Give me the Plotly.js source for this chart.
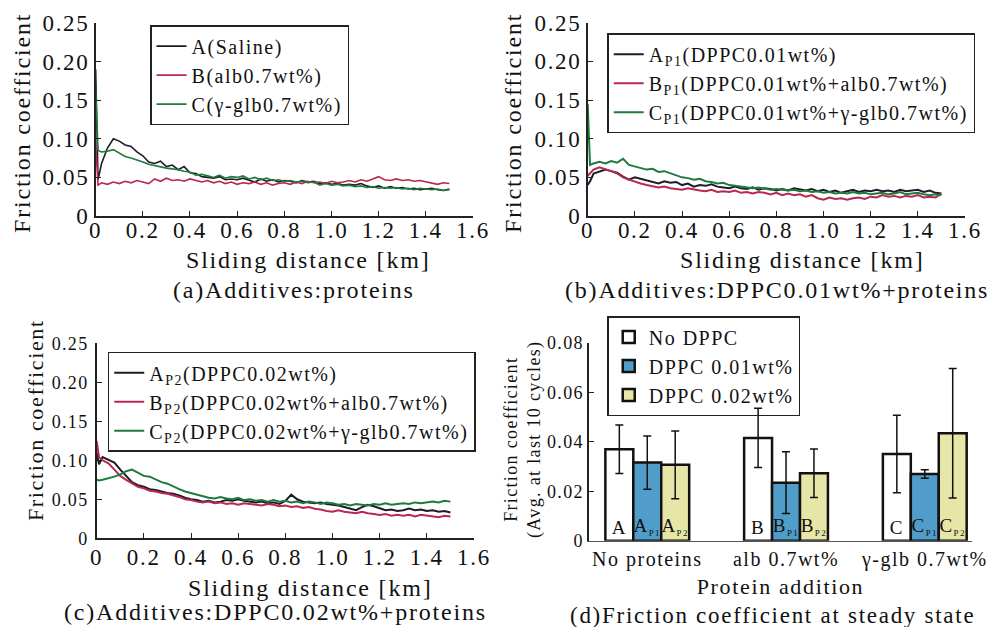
<!DOCTYPE html>
<html><head><meta charset="utf-8">
<script src="https://cdn.plot.ly/plotly-3.0.1.min.js"></script>
<style>
html,body{margin:0;padding:0;background:#fff;}
svg text{letter-spacing:0.075em;}
g.bartext text{letter-spacing:0 !important;}
</style>
</head><body><div id="chart" style="width:1007px;height:627px;"></div>
<script>
// ---------- data ----------
const distance = [0,0.01,0.025,0.05,0.075,0.1,0.125,0.15,0.175,0.2,0.225,0.25,0.275,0.3,0.325,0.35,0.375,0.4,0.425,0.45,0.475,0.5,0.525,0.55,0.575,0.6,0.625,0.65,0.675,0.7,0.725,0.75,0.775,0.8,0.825,0.85,0.875,0.9,0.925,0.95,0.975,1.0,1.025,1.05,1.075,1.1,1.125,1.15,1.175,1.2,1.225,1.25,1.275,1.3,1.325,1.35,1.375,1.4,1.425,1.45,1.475,1.5];

// (a) proteins only
const saline_A = [0.19,0.047,0.068,0.088,0.100,0.097,0.092,0.090,0.083,0.078,0.070,0.068,0.071,0.064,0.066,0.060,0.064,0.056,0.055,0.051,0.050,0.049,0.051,0.047,0.048,0.047,0.049,0.046,0.044,0.048,0.045,0.047,0.044,0.046,0.045,0.043,0.046,0.044,0.045,0.042,0.043,0.041,0.042,0.040,0.041,0.040,0.042,0.039,0.037,0.039,0.036,0.038,0.036,0.037,0.035,0.036,0.034,0.035,0.036,0.034,0.033,0.035];
const alb_B = [0.095,0.040,0.043,0.041,0.044,0.042,0.045,0.043,0.046,0.044,0.042,0.048,0.045,0.049,0.046,0.047,0.045,0.048,0.046,0.044,0.046,0.043,0.045,0.042,0.044,0.041,0.043,0.042,0.044,0.041,0.043,0.040,0.042,0.043,0.041,0.044,0.042,0.045,0.043,0.044,0.042,0.045,0.043,0.044,0.046,0.044,0.047,0.045,0.048,0.051,0.047,0.046,0.048,0.046,0.047,0.045,0.046,0.044,0.043,0.041,0.043,0.042];
const glb_C = [0.165,0.085,0.083,0.084,0.086,0.081,0.077,0.075,0.073,0.070,0.067,0.065,0.063,0.062,0.061,0.060,0.058,0.057,0.053,0.054,0.052,0.050,0.053,0.049,0.051,0.050,0.052,0.048,0.050,0.047,0.049,0.046,0.047,0.045,0.046,0.044,0.045,0.043,0.044,0.040,0.042,0.040,0.041,0.039,0.040,0.038,0.039,0.037,0.038,0.036,0.037,0.036,0.037,0.035,0.036,0.034,0.036,0.035,0.034,0.035,0.033,0.034];

// (b) DPPC 0.01wt% + proteins
const p1_A = [0.040,0.045,0.055,0.058,0.060,0.058,0.056,0.051,0.047,0.050,0.048,0.046,0.044,0.042,0.045,0.043,0.044,0.040,0.042,0.038,0.040,0.039,0.041,0.038,0.037,0.036,0.038,0.036,0.035,0.037,0.034,0.036,0.035,0.033,0.035,0.033,0.036,0.034,0.033,0.035,0.032,0.034,0.031,0.033,0.030,0.032,0.034,0.031,0.033,0.032,0.034,0.032,0.033,0.031,0.034,0.032,0.033,0.034,0.031,0.033,0.030,0.029];
const p1_B = [0.052,0.055,0.060,0.063,0.061,0.058,0.055,0.050,0.047,0.044,0.042,0.040,0.038,0.037,0.038,0.036,0.035,0.034,0.036,0.034,0.033,0.032,0.034,0.031,0.032,0.031,0.033,0.030,0.031,0.029,0.031,0.030,0.028,0.030,0.027,0.029,0.027,0.028,0.025,0.027,0.023,0.021,0.024,0.022,0.023,0.021,0.023,0.024,0.022,0.025,0.024,0.027,0.025,0.026,0.024,0.026,0.025,0.027,0.024,0.025,0.024,0.029];
const p1_C = [0.145,0.066,0.068,0.070,0.068,0.071,0.069,0.074,0.066,0.064,0.062,0.060,0.061,0.057,0.058,0.055,0.053,0.050,0.049,0.047,0.048,0.045,0.044,0.042,0.043,0.040,0.039,0.038,0.037,0.036,0.037,0.035,0.034,0.035,0.034,0.033,0.034,0.032,0.033,0.031,0.032,0.030,0.031,0.029,0.030,0.029,0.031,0.029,0.030,0.028,0.029,0.030,0.028,0.029,0.031,0.028,0.029,0.030,0.028,0.027,0.028,0.027];

// (c) DPPC 0.02wt% + proteins
const p2_A = [0.110,0.095,0.104,0.100,0.097,0.088,0.080,0.072,0.068,0.066,0.063,0.062,0.060,0.058,0.057,0.055,0.052,0.050,0.049,0.047,0.048,0.046,0.047,0.049,0.048,0.050,0.048,0.047,0.046,0.047,0.045,0.046,0.044,0.048,0.056,0.050,0.047,0.046,0.045,0.046,0.044,0.043,0.042,0.040,0.038,0.036,0.040,0.043,0.041,0.038,0.036,0.037,0.035,0.036,0.038,0.036,0.037,0.035,0.036,0.034,0.035,0.033];
const p2_B = [0.125,0.104,0.100,0.096,0.088,0.080,0.075,0.070,0.066,0.064,0.061,0.060,0.058,0.057,0.055,0.053,0.050,0.049,0.047,0.046,0.047,0.045,0.046,0.044,0.045,0.043,0.045,0.044,0.043,0.042,0.044,0.043,0.041,0.042,0.040,0.041,0.039,0.040,0.038,0.037,0.035,0.034,0.036,0.034,0.033,0.032,0.034,0.032,0.031,0.030,0.031,0.029,0.030,0.029,0.030,0.028,0.030,0.029,0.028,0.027,0.029,0.028];
const p2_C = [0.075,0.074,0.075,0.077,0.079,0.082,0.086,0.088,0.084,0.080,0.079,0.075,0.072,0.070,0.066,0.063,0.060,0.058,0.056,0.054,0.052,0.051,0.053,0.051,0.050,0.052,0.049,0.050,0.048,0.049,0.047,0.049,0.047,0.048,0.046,0.047,0.045,0.047,0.046,0.044,0.046,0.045,0.043,0.044,0.042,0.044,0.043,0.042,0.044,0.043,0.045,0.043,0.044,0.045,0.044,0.046,0.045,0.046,0.047,0.046,0.048,0.047];

// (d) steady state
const categories = ['No proteins', 'alb 0.7wt%', 'γ-glb 0.7wt%'];
const noDppc = [0.0370, 0.0416, 0.0351];
const noDppcErr = [0.0098, 0.0120, 0.0157];
const dppc001 = [0.0316, 0.0235, 0.0270];
const dppc001Err = [0.0108, 0.0125, 0.0017];
const dppc002 = [0.0307, 0.0273, 0.0435];
const dppc002Err = [0.0137, 0.0098, 0.0262];
const barLetters = ['A', 'B', 'C'];
const subP1 = 'P1';
const subP2 = 'P2';

const yTickVals = [0, 0.05, 0.10, 0.15, 0.20, 0.25];
const yTickText = ['0', '0.05', '0.10', '0.15', '0.20', '0.25'];
const xTickVals = [0, 0.2, 0.4, 0.6, 0.8, 1.0, 1.2, 1.4, 1.6];
const xTickText = ['0', '0.2', '0.4', '0.6', '0.8', '1.0', '1.2', '1.4', '1.6'];

// ---------- styling ----------
const FONT = 'Liberation Serif, Times New Roman, serif';
const BLACK = '#1c1c2a', RED = '#b8284f', GREEN = '#1f7a3e';

function line(x, y, name, color, xa, ya, leg, w) {
  return {type: 'scatter', mode: 'lines', x: x, y: y, name: name, xaxis: xa, yaxis: ya,
          legend: leg, line: {color: color, width: w}, hoverinfo: 'x+y'};
}

const traces = [
  line(distance, saline_A, 'A(Saline)', BLACK, 'x', 'y', 'legend', 1.6),
  line(distance, alb_B, 'B(alb0.7wt%)', RED, 'x', 'y', 'legend', 1.6),
  line(distance, glb_C, 'C(γ-glb0.7wt%)', GREEN, 'x', 'y', 'legend', 1.6),
  line(distance, p1_A, 'A<sub>P1</sub>(DPPC0.01wt%)', BLACK, 'x2', 'y2', 'legend2', 2),
  line(distance, p1_B, 'B<sub>P1</sub>(DPPC0.01wt%+alb0.7wt%)', RED, 'x2', 'y2', 'legend2', 2),
  line(distance, p1_C, 'C<sub>P1</sub>(DPPC0.01wt%+γ-glb0.7wt%)', GREEN, 'x2', 'y2', 'legend2', 2),
  line(distance, p2_A, 'A<sub>P2</sub>(DPPC0.02wt%)', BLACK, 'x3', 'y3', 'legend3', 2),
  line(distance, p2_B, 'B<sub>P2</sub>(DPPC0.02wt%+alb0.7wt%)', RED, 'x3', 'y3', 'legend3', 2),
  line(distance, p2_C, 'C<sub>P2</sub>(DPPC0.02wt%+γ-glb0.7wt%)', GREEN, 'x3', 'y3', 'legend3', 2)
];

function withSub(letters, sub) {
  return letters.map(l => sub ? l + '<sub><span style="font-size:9px">' + sub + '</span></sub>' : l);
}

function bar(y, err, labels, name, color) {
  return {type: 'bar', x: categories, y: y, name: name, xaxis: 'x4', yaxis: 'y4', legend: 'legend4',
          text: labels, textposition: 'inside', insidetextanchor: 'start', textangle: 0,
          constraintext: 'none', textfont: {size: 19, color: '#111', family: FONT},
          marker: {color: color, line: {color: '#111', width: 2.5}},
          error_y: {type: 'data', array: err, visible: true, color: '#111', thickness: 1.5, width: 4}};
}
traces.push(bar(noDppc, noDppcErr, withSub(barLetters, ''), 'No DPPC', '#ffffff'));
traces.push(bar(dppc001, dppc001Err, withSub(barLetters, subP1), 'DPPC 0.01wt%', '#4f9dc8'));
traces.push(bar(dppc002, dppc002Err, withSub(barLetters, subP2), 'DPPC 0.02wt%', '#e6e6a6'));

function xAxis(domain, anchor, tsize, standoff) {
  return {domain: domain, anchor: anchor, range: [0, 1.6], tickvals: xTickVals, ticktext: xTickText,
          ticks: 'inside', ticklen: 5, tickcolor: '#222', showline: true, linecolor: '#222', linewidth: 1.5,
          showgrid: false, zeroline: false, tickfont: {size: tsize, color: '#111'}, fixedrange: true,
          ticklabelstandoff: standoff};
}
function yAxis(domain, anchor, tsize) {
  return {domain: domain, anchor: anchor, range: [0, 0.25], tickvals: yTickVals, ticktext: yTickText,
          ticks: 'inside', ticklen: 5, tickcolor: '#222', showline: true, linecolor: '#222', linewidth: 1.5,
          showgrid: false, zeroline: false, tickfont: {size: tsize, color: '#111'}, fixedrange: true};
}

function legendBox(x, y) {
  return {x: x, y: y, xanchor: 'left', yanchor: 'top', bordercolor: '#222', borderwidth: 1.5,
          bgcolor: 'rgba(255,255,255,0)', font: {size: 20, family: FONT, color: '#111'},
          traceorder: 'normal', tracegroupgap: 0};
}

function ann(text, x, y, size, angle) {
  return {text: text, x: x, y: y, xref: 'paper', yref: 'paper', xanchor: 'center', yanchor: 'middle',
          showarrow: false, textangle: angle || 0, font: {size: size, family: FONT, color: '#111'}};
}

const layout = {
  width: 1007, height: 627, margin: {l: 0, r: 0, t: 0, b: 0},
  paper_bgcolor: '#fff', plot_bgcolor: 'rgba(0,0,0,0)',
  font: {family: FONT, color: '#111'},
  showlegend: true,
  xaxis: xAxis([0.0950, 0.4697], 'y', 23, -7),
  yaxis: yAxis([0.6555, 0.9633], 'x', 23),
  xaxis2: xAxis([0.5836, 0.9583], 'y2', 23, -7),
  yaxis2: yAxis([0.6555, 0.9638], 'x2', 23),
  xaxis3: xAxis([0.0960, 0.4707], 'y3', 23, -2),
  yaxis3: Object.assign(yAxis([0.1415, 0.4525], 'x3', 18), {ticklabelstandoff: 3}),
  xaxis4: {domain: [0.5849, 0.9652], anchor: 'y4', type: 'category', range: [-0.42, 2.34],
           showline: true, linecolor: '#555', linewidth: 1.5, ticks: '', showgrid: false, zeroline: false,
           tickfont: {size: 20, color: '#111'}, fixedrange: true,
           title: {text: 'Protein addition', font: {size: 22}, standoff: 8}},
  yaxis4: {domain: [0.1376, 0.4530], anchor: 'x4', range: [0, 0.08], dtick: 0.02, tick0: 0,
           ticks: 'inside', ticklen: 5, tickcolor: '#222', showline: true, linecolor: '#222', linewidth: 1.5,
           showgrid: false, zeroline: false, tickfont: {size: 18, color: '#111'}, fixedrange: true},
  bargap: 0.396, bargroupgap: 0, barmode: 'group',
  legend: legendBox(0.149, 0.960),
  legend2: legendBox(0.603, 0.947),
  legend3: legendBox(0.107, 0.439),
  legend4: legendBox(0.603, 0.496),
  annotations: [
    ann('Sliding distance [km]', 0.3059, 0.5853, 24),
    ann('(a)Additives:proteins', 0.292, 0.5375, 24),
    ann('Friction coefficient', 0.0218, 0.8038, 24, -90),
    ann('Sliding distance [km]', 0.7964, 0.5853, 24),
    ann('(b)Additives:DPPC0.01wt%+proteins', 0.7716, 0.5375, 24),
    ann('Friction coefficient', 0.5094, 0.8038, 24, -90),
    ann('Sliding distance [km]', 0.3078, 0.0622, 24),
    ann('(c)Additives:DPPC0.02wt%+proteins', 0.274, 0.0239, 24),
    ann('Friction coefficient', 0.0348, 0.3301, 22, -90),
    ann('(d)Friction coefficient at steady state', 0.7676, 0.0191, 23),
    ann('Friction coefficient<br>(Avg. at last 10 cycles)', 0.5194, 0.2998, 18, -90)
  ]
};

Plotly.newPlot('chart', traces, layout, {displayModeBar: false, staticPlot: true});
</script></body></html>
